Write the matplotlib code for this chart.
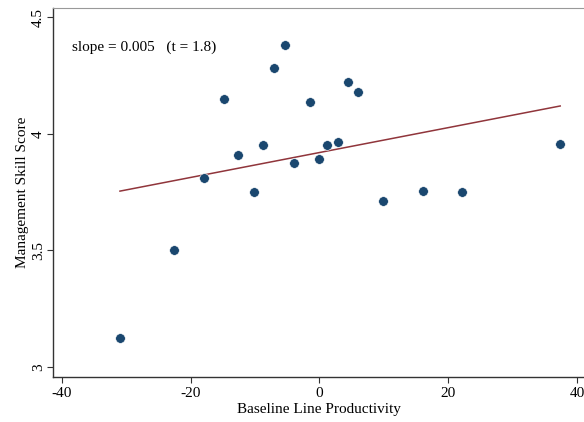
import numpy as np
import matplotlib
matplotlib.use("Agg")
import matplotlib.pyplot as plt

# baseline line productivity vs management skill score
prod = [-31.0, -22.6, -18.0, -14.9, -12.6, -10.2, -8.8, -7.0, -5.3, -3.9,
        -1.4, 0.0, 1.1, 2.9, 4.5, 6.0, 9.9, 16.1, 22.2, 37.4]
skill = [3.126, 3.50, 3.81, 4.15, 3.91, 3.75, 3.95, 4.28, 4.38, 3.876,
         4.137, 3.89, 3.95, 3.966, 4.22, 4.18, 3.71, 3.756, 3.75, 3.957]

# fitted line endpoints
fit_x = [-31.0, 37.4]
fit_y = [3.754, 4.119]

plt.rcParams['font.family'] = ['Liberation Serif', 'DejaVu Serif']
plt.rcParams['axes.unicode_minus'] = False

fig = plt.figure(figsize=(5.84, 4.22), dpi=100)
ax = fig.add_axes([0.0908, 0.1066, 1 - 0.0908, 0.8744])

ax.plot(fit_x, fit_y, color='#90353b', lw=1.1, zorder=2)
ax.scatter(prod, skill, s=48, color='#1a476f', edgecolors='white', linewidths=0.4, zorder=3)

ax.set_xlim(-41.4, 41.1)
ax.set_ylim(2.957, 4.539)
ax.set_xticks([-40, -20, 0, 20, 40])
ax.set_yticks([3, 3.5, 4, 4.5])
ax.set_yticklabels(['3', '3.5', '4', '4.5'], rotation=90, va='center')
ax.tick_params(direction='out', length=4, width=0.8, color='#333333', labelsize=11)
ax.tick_params(axis='y', pad=2)

ax.spines['right'].set_visible(False)
ax.spines['top'].set_color('#999999')
ax.spines['left'].set_color('#333333')
ax.spines['bottom'].set_color('#333333')
ax.spines['left'].set_linewidth(1.0)
ax.spines['bottom'].set_linewidth(1.0)

ax.set_xlabel('Baseline Line Productivity', fontsize=11, labelpad=2)
ax.set_ylabel('Management Skill Score', fontsize=11, labelpad=2)

ax.text(-38.4, 4.37, 'slope = 0.005   (t = 1.8)', fontsize=11, va='center')

fig.savefig('out.png', dpi=100)
